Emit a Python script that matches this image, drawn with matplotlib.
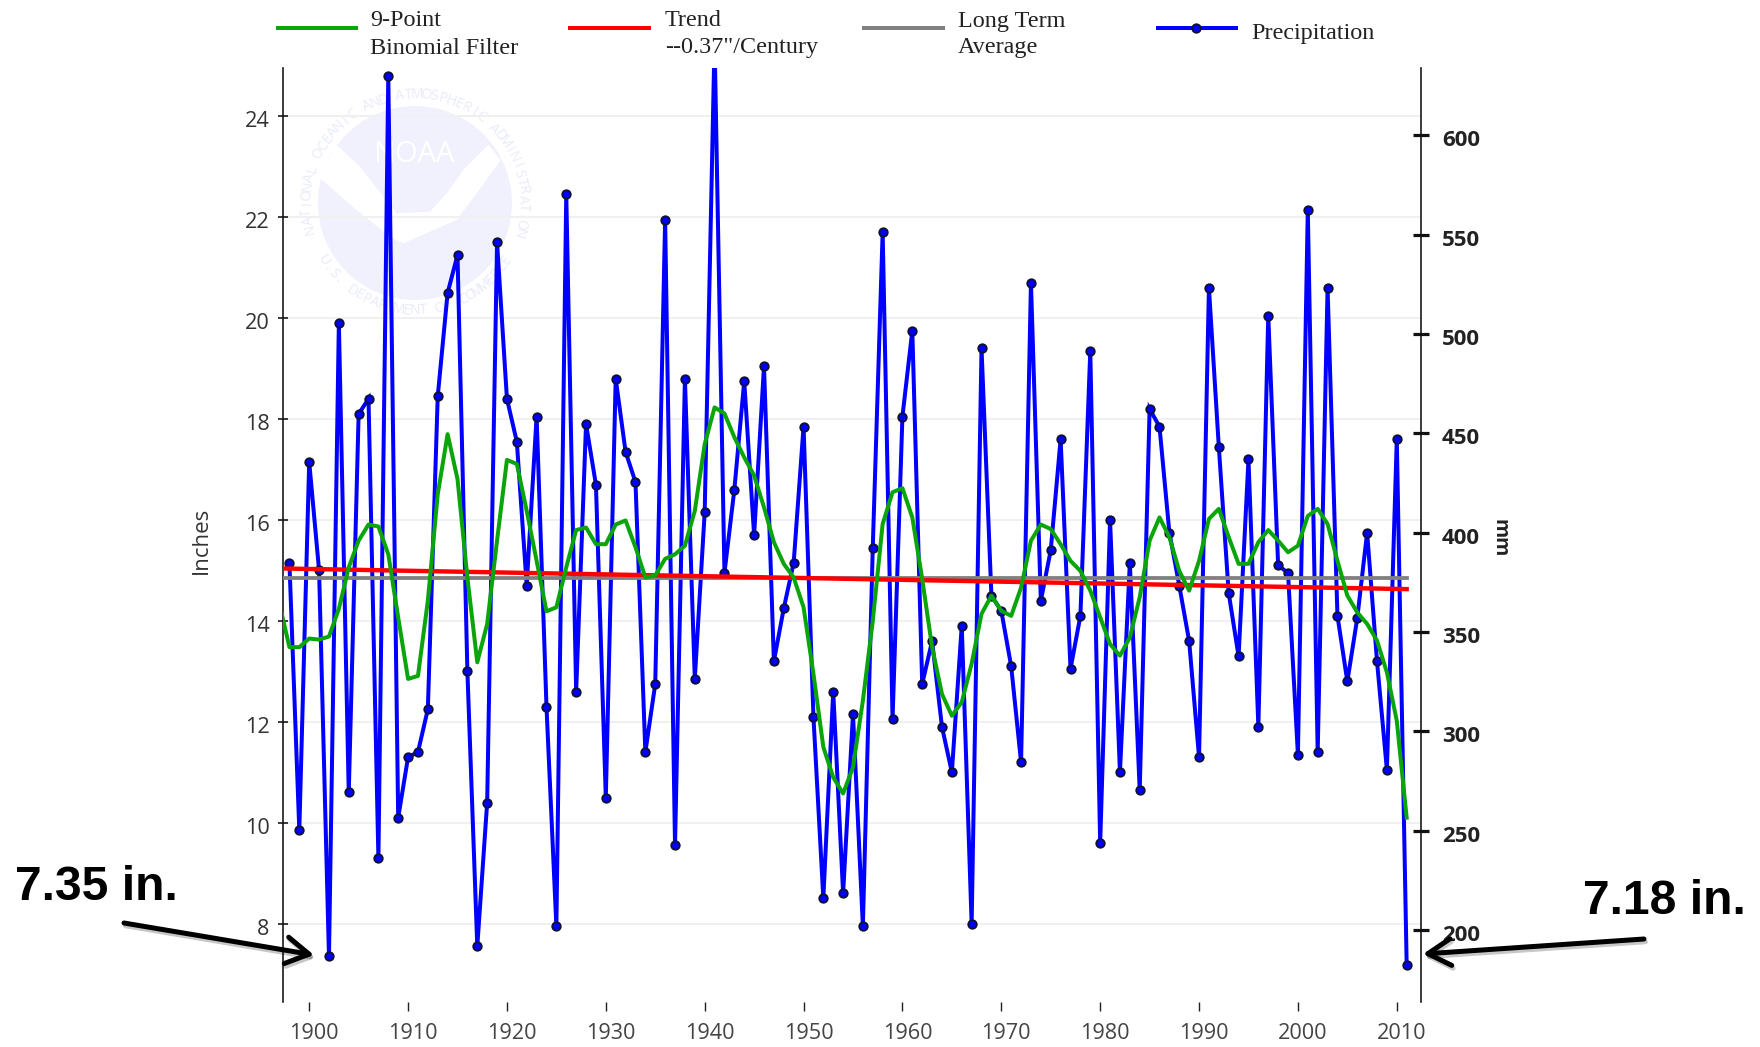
import numpy as np
import matplotlib
matplotlib.use("Agg")
import matplotlib.pyplot as plt
from matplotlib.patches import Circle, Polygon, FancyArrowPatch
from matplotlib.transforms import Affine2D, ScaledTranslation
from matplotlib import patheffects as pe

years = list(range(1898, 2012))
precip = [15.15, 9.85, 17.15, 15.0, 7.35, 19.9, 10.6, 18.1, 18.4, 9.3,
          24.8, 10.1, 11.3, 11.4, 12.25, 18.45, 20.5, 21.25, 13.0, 7.55,
          10.4, 21.5, 18.4, 17.55, 14.7, 18.05, 12.3, 7.95, 22.45, 12.6,
          17.9, 16.7, 10.5, 18.8, 17.35, 16.75, 11.4, 12.75, 21.95, 9.55,
          18.8, 12.85, 16.15, 25.5, 14.95, 16.6, 18.75, 15.7, 19.05, 13.2,
          14.25, 15.15, 17.85, 12.1, 8.5, 12.6, 8.6, 12.15, 7.95, 15.45,
          21.7, 12.05, 18.05, 19.75, 12.75, 13.6, 11.9, 11.0, 13.9, 8.0,
          19.4, 14.5, 14.2, 13.1, 11.2, 20.7, 14.4, 15.4, 17.6, 13.05,
          14.1, 19.35, 9.6, 16.0, 11.0, 15.15, 10.65, 18.2, 17.85, 15.75,
          14.7, 13.6, 11.3, 20.6, 17.45, 14.55, 13.3, 17.2, 11.9, 20.05,
          15.1, 14.95, 11.35, 22.15, 11.4, 20.6, 14.1, 12.8, 14.05, 15.75,
          13.2, 11.05, 17.6, 7.18]

filter_years = list(range(1897, 2012))
binomial = [14.33, 13.48, 13.48, 13.65, 13.63, 13.69, 14.24, 15.06, 15.59, 15.91,
            15.87, 15.32, 14.07, 12.85, 12.91, 14.40, 16.51, 17.70, 16.81, 14.86,
            13.18, 13.94, 15.59, 17.19, 17.11, 16.18, 15.19, 14.19, 14.27, 15.06,
            15.80, 15.85, 15.52, 15.52, 15.91, 15.99, 15.46, 14.86, 14.90, 15.23,
            15.32, 15.49, 16.18, 17.50, 18.23, 18.11, 17.64, 17.24, 16.88, 16.25,
            15.56, 15.13, 14.86, 14.27, 12.95, 11.5, 10.9, 10.58, 11.1, 12.42,
            14.0, 15.92, 16.55, 16.63, 16.05, 14.83, 13.48, 12.55, 12.12, 12.39,
            13.15, 14.14, 14.50, 14.20, 14.10, 14.66, 15.59, 15.91, 15.82, 15.52,
            15.19, 14.99, 14.60, 14.07, 13.54, 13.31, 13.67, 14.47, 15.59, 16.05,
            15.66, 14.99, 14.60, 15.19, 16.02, 16.22, 15.66, 15.13, 15.13, 15.56,
            15.80, 15.59, 15.36, 15.49, 16.08, 16.22, 15.92, 15.19, 14.50, 14.17,
            13.94, 13.61, 12.98, 12.02, 10.1]

line_years = [1897, 2011]
trend = [15.04, 14.63]
long_term = [14.85, 14.85]

inch_ticks = [8, 10, 12, 14, 16, 18, 20, 22, 24]
mm_ticks = [200, 250, 300, 350, 400, 450, 500, 550, 600]
year_ticks = [1900, 1910, 1920, 1930, 1940, 1950, 1960, 1970, 1980, 1990, 2000, 2010]

W, H = 1760, 1047
BLUE, GREEN, RED, GRAY = "#0000ff", "#0aa50a", "#ff0000", "#808080"
PX = 0.72  # points per pixel at dpi=100

fig = plt.figure(figsize=(W / 100, H / 100), dpi=100, facecolor="white")
pix = Affine2D().scale(1, -1).translate(0, H)   # reference pixel coordinates

# axes frame
L, R, T, B = 282.7, 1421.4, 68.3, 1001.7
ax = fig.add_axes([L / W, 1 - B / H, (R - L) / W, (B - T) / H])
ax.patch.set_visible(False)
ax.set_xlim(1897.32, 2012.49)
ax.set_ylim(6.454, 24.95)

# NOAA watermark (figure level, below the axes)
cx, cy, rad = 415, 203, 97
wm = "#f0f1fc"
fig.add_artist(Circle((cx, cy), rad, transform=pix, fc=wm, ec="none", zorder=-5))
wing = [(85, 290), (140, 195), (210, 260), (280, 350), (320, 400), (420, 395), (470, 340),
        (520, 270), (595, 195), (632, 240), (560, 340), (500, 420), (340, 490), (300, 470), (200, 390)]
fig.add_artist(Polygon([(290 + x / 3, 80 + y / 3) for x, y in wing], closed=True,
                       transform=pix, fc="white", ec="none", zorder=-4))
fig.text(414, 155, "NOAA", transform=pix, color="white", family="Open Sans", weight="normal",
         fontsize=21, ha="center", va="center", zorder=-3)


def ring(text, a0, a1, radius, flip=False):
    for ch, a in zip(text, np.linspace(a0, a1, len(text))):
        x = cx + radius * np.cos(np.radians(a))
        y = cy - radius * np.sin(np.radians(a))
        rot = a + 90 if flip else a - 90
        fig.text(x, y, ch, transform=pix, color="#e9ebf9", family="Open Sans", fontsize=10,
                 rotation=rot, rotation_mode="anchor", ha="center", va="center", zorder=-3)


ring("NATIONAL OCEANIC AND ATMOSPHERIC ADMINISTRATION", 194, -16, 108)
ring("U.S. DEPARTMENT OF COMMERCE", 212, 328, 108, flip=True)

# gridlines
ax.set_yticks(inch_ticks)
ax.grid(axis="y", color="#f0f0f0", lw=2 * PX, zorder=0)
ax.set_axisbelow(True)

# series
ax.plot(years, precip, color=BLUE, lw=4 * PX, marker="o", ms=8.5 * PX, mfc=BLUE,
        mec="#101030", mew=1.8 * PX, zorder=2, solid_joinstyle="miter")
ax.plot(line_years, long_term, color=GRAY, lw=3.8 * PX, zorder=3)
ax.plot(line_years, trend, color=RED, lw=4.4 * PX, zorder=4)
ax.plot(filter_years, binomial, color=GREEN, lw=4 * PX, zorder=5)

# spines and ticks
for s in ("top", "right", "bottom"):
    ax.spines[s].set_visible(False)
ax.spines["left"].set_linewidth(1.6 * PX)
ax.spines["left"].set_color("#111111")

ax.set_xticks(year_ticks)
ax.tick_params(axis="x", direction="out", length=9 * PX, width=1.4 * PX, color="#222222",
               labelsize=15.6, labelcolor="#444444", pad=9)
ax.tick_params(axis="y", direction="inout", length=10 * PX, width=1.6 * PX, color="#111111",
               labelsize=15.6, labelcolor="#333333", pad=6)
shift_x = ScaledTranslation(5 / 100, 0, fig.dpi_scale_trans)
shift_y = ScaledTranslation(0, -3 / 100, fig.dpi_scale_trans)
for lab in ax.get_xticklabels():
    lab.set_transform(lab.get_transform() + shift_x)
    lab.set_family("Open Sans")
for lab in ax.get_yticklabels():
    lab.set_transform(lab.get_transform() + shift_y)
    lab.set_family("Open Sans")

ax2 = ax.twinx()
ax2.patch.set_visible(False)
ax2.set_ylim(6.454 * 25.4, 24.95 * 25.4)
ax2.set_yticks(mm_ticks)
for s in ("top", "left", "bottom"):
    ax2.spines[s].set_visible(False)
ax2.spines["right"].set_linewidth(1.6 * PX)
ax2.spines["right"].set_color("#111111")
ax2.tick_params(axis="y", direction="inout", length=16 * PX, width=3.2 * PX, color="#111111",
                labelsize=16, labelcolor="#222222", pad=9)
for lab in ax2.get_yticklabels():
    lab.set_transform(lab.get_transform() + shift_y)
    lab.set_family("Open Sans")
    lab.set_weight("bold")

# axis titles
fig.text(201, 540, "Inches", transform=pix, rotation=90, ha="center", va="center",
         family="Open Sans", fontsize=16, color="#333333")
fig.text(1500, 538, "mm", transform=pix, rotation=-90, ha="center", va="center",
         family="Open Sans", weight="bold", fontsize=14, color="#222222")

# legend
serif = dict(transform=pix, family="Liberation Serif", fontsize=17.4, color="#222222",
             ha="left", va="center")
legend_lines = [(278, 356, GREEN, ["9-Point", "Binomial Filter"], 370),
                (570, 649, RED, ["Trend", '--0.37"/Century'], 665),
                (864, 943, GRAY, ["Long Term", "Average"], 957.5)]
for x0, x1, col, labels, tx in legend_lines:
    fig.add_artist(plt.Line2D([x0, x1], [28, 28], color=col, lw=4 * PX, transform=pix))
    fig.text(tx, 21, labels[0], **serif)
    fig.text(tx, 48, labels[1], **serif)
fig.add_artist(plt.Line2D([1158, 1236], [28, 28], color=BLUE, lw=4 * PX, transform=pix))
fig.add_artist(plt.Line2D([1196], [28], color=BLUE, marker="o", ms=8.5 * PX, mfc=BLUE,
                          mec="#101030", mew=1.8 * PX, transform=pix))
fig.text(1251.5, 34, "Precipitation", **serif)

# record-low call-outs
bold = dict(transform=pix, family="Liberation Sans", weight="bold", fontsize=34.6,
            color="black", ha="left", va="center", zorder=10)
fig.text(15, 887, "7.35 in.", **bold)
fig.text(1583, 902, "7.18 in.", **bold)
for a, b in [((124, 923), (314, 955)), ((1644, 939), (1423, 954))]:
    arrow = FancyArrowPatch(a, b, transform=pix, arrowstyle="->,head_length=0.55,head_width=0.32",
                            mutation_scale=30, lw=5 * PX, color="black", shrinkA=0, shrinkB=0, zorder=10)
    arrow.set_path_effects([pe.SimpleLineShadow(offset=(1, -2), alpha=0.22, shadow_color="black"),
                            pe.Normal()])
    fig.add_artist(arrow)

fig.savefig("out.png", dpi=100)
